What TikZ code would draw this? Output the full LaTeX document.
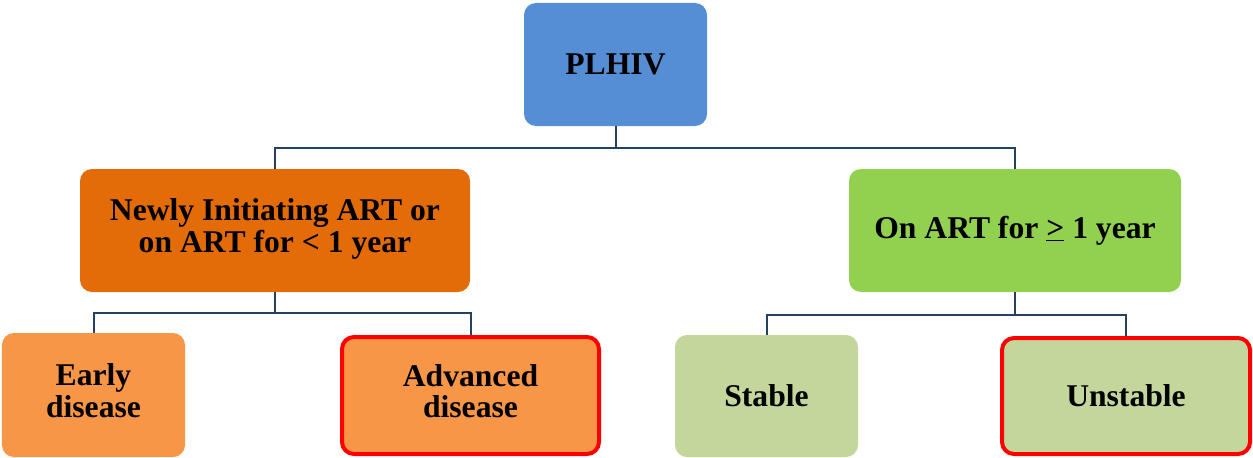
\documentclass[tikz,border=0pt]{standalone}
\usepackage{fontspec}
\setmainfont{Liberation Serif}
\definecolor{plhivblue}{HTML}{558ED5}
\definecolor{newart}{HTML}{E36C09}
\definecolor{onart}{HTML}{92D050}
\definecolor{lightorange}{HTML}{F79646}
\definecolor{lightgreen}{HTML}{C3D69B}
\definecolor{linkblue}{HTML}{254061}
\tikzset{
  box/.style={rectangle,rounded corners=0.24cm,inner sep=0pt,align=center,
    font=\fontsize{18}{18}\selectfont\bfseries},
  alert/.style={draw=red,line width=0.08cm},
  link/.style={draw=linkblue,line width=0.04cm}
}
\begin{document}
\begin{tikzpicture}
\useasboundingbox (0,0) rectangle (25.06,9.14);
\begin{scope}
\node (PL) at (12.31,7.85) [box,fill=plhivblue,minimum width=3.66cm,minimum height=2.46cm] {PLHIV};
\node (NI) at (5.5,4.53) [box,fill=newart,minimum width=7.8cm,minimum height=2.46cm] {\begin{tabular}{c}Newly Initiating ART or\\ on ART for < 1 year\end{tabular}};
\node (OA) at (20.3,4.53) [box,fill=onart,minimum width=6.64cm,minimum height=2.46cm] {On ART for \underline{>} 1 year};
\node (ED) at (1.87,1.24) [box,fill=lightorange,minimum width=3.66cm,minimum height=2.48cm] {\begin{tabular}{c}Early\\ disease\end{tabular}};
\node (AD) at (9.41,1.23) [box,alert,fill=lightorange,minimum width=5.14cm,minimum height=2.34cm] {\begin{tabular}{c}Advanced\\ disease\end{tabular}};
\node (ST) at (15.33,1.22) [box,fill=lightgreen,minimum width=3.66cm,minimum height=2.44cm] {Stable};
\node (US) at (22.52,1.22) [box,alert,fill=lightgreen,minimum width=4.96cm,minimum height=2.32cm] {Unstable};
\coordinate (J1) at (12.31,6.18);
\coordinate (J2) at (5.5,2.88);
\coordinate (J3) at (20.3,2.84);
\draw[link] (PL) -- (J1);
\draw[link] (J1) -| (NI);
\draw[link] (J1) -| (OA);
\draw[link] (NI) -- (J2);
\draw[link] (J2) -| (ED);
\draw[link] (J2) -| (AD);
\draw[link] (OA) -- (J3);
\draw[link] (J3) -| (ST);
\draw[link] (J3) -| (US);
\end{scope}
\end{tikzpicture}
\end{document}
